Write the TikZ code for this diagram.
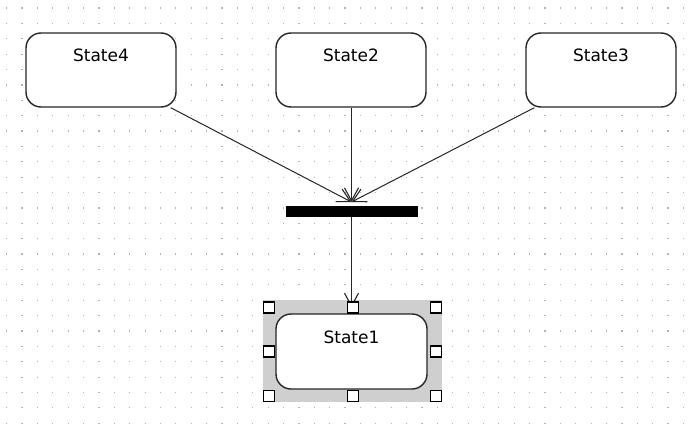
\documentclass[tikz,border=0pt]{standalone}
\usepackage{fontspec}
\setmainfont{DejaVu Sans}
\usetikzlibrary{arrows.meta}
\begin{document}
\begin{tikzpicture}[x=1pt,y=-1pt,
  statebox/.style={draw=black!85, line width=1.4pt, rounded corners=15pt, fill=white, minimum width=150pt, minimum height=74pt, inner sep=0pt},
  statelabel/.style={font=\fontsize{17}{20}\selectfont, anchor=base, inner sep=0pt},
  flow/.style={draw=black!85, line width=1pt, -{Straight Barb[length=13pt,width=14pt,line width=1.1pt]}},
  handle/.style={draw=black, fill=white, line width=1.3pt, minimum size=11pt, inner sep=0pt},
  selarea/.style={fill=gray!38, minimum width=179pt, minimum height=102pt, inner sep=0pt},
  barstyle/.style={fill=black, minimum width=132pt, minimum height=11pt, inner sep=0pt},
  griddot/.style={fill=black!30}]
\useasboundingbox (0,0) rectangle (695,423);
\fill[white] (0,0) rectangle (695,423);
\foreach \i in {0,...,45} \foreach \j in {0,...,27} {
  \fill[griddot] (6.7+15.38*\i-0.6, 8+15.38*\j-0.6) rectangle ++(1.2,1.2);
}
% states
\node[statebox] (state4) at (101,70) {};
\node[statebox] (state2) at (351,70) {};
\node[statebox] (state3) at (601,70) {};
\node[statelabel] (t4) at (101,61) {State4};
\node[statelabel] (t2) at (351,61) {State2};
\node[statelabel] (t3) at (601,61) {State3};
% selection
\node[selarea] (sel) at (352.5,351) {};
\node[statebox, minimum width=151pt, minimum height=75pt] (state1) at (351.5,351.5) {};
\node[statelabel] (t1) at (351.5,343) {State1};
% join bar
\node[barstyle] (bar) at (351.5,211.5) {};
\coordinate (join) at (351.5,202);
\draw[flow] ([xshift=-6pt]state4.south east) -- (join);
\draw[flow] ([xshift=0.5pt]state2.south) -- (join);
\draw[flow] ([xshift=9pt]state3.south west) -- (join);
\draw[flow] (bar.south) -- ([yshift=6pt]state1.north);
% handles
\foreach \n/\x/\y in {h1/269/307.5, h2/353/307.5, h3/436/307.5, h4/269/351.5, h5/436/351.5, h6/269/396, h7/353/396, h8/436/396} {
  \node[handle] (\n) at (\x,\y) {};
}
\end{tikzpicture}
\end{document}
